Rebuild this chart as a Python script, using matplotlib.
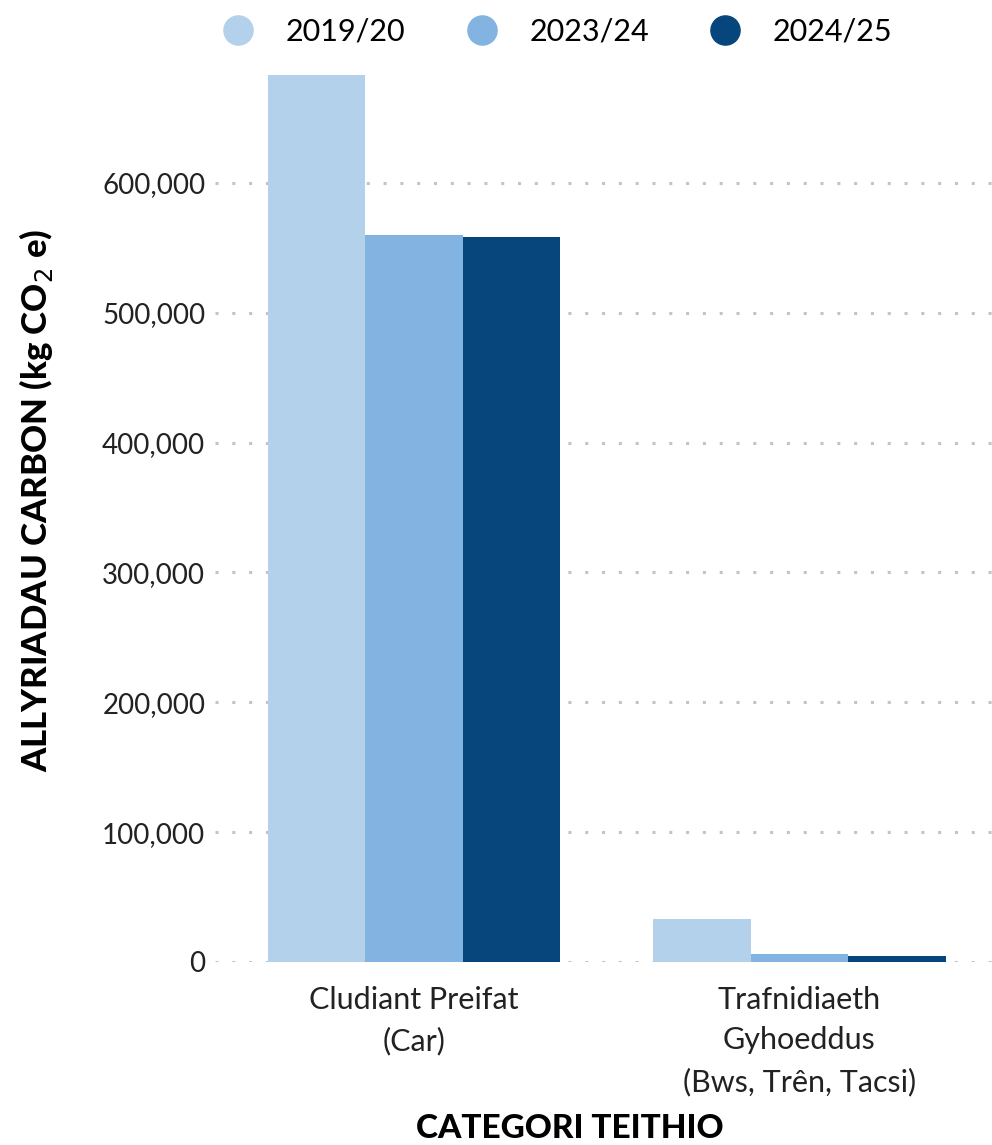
import numpy as np
import matplotlib.pyplot as plt
from matplotlib.lines import Line2D

# data
categories = ["Cludiant Preifat\n(Car)", "Trafnidiaeth\nGyhoeddus\n(Bws, Trên, Tacsi)"]
years = ["2019/20", "2023/24", "2024/25"]
v_2019 = [683000, 33000]
v_2023 = [560000, 5900]
v_2024 = [558500, 4900]
yticks = [0, 100000, 200000, 300000, 400000, 500000, 600000]

colors = ["#b4d1ec", "#83b4e1", "#07467c"]

plt.rcParams['font.family'] = ['Lato', 'DejaVu Sans']

fig = plt.figure(figsize=(9.92, 11.45), dpi=100)
ax = fig.add_axes([215 / 992, 1 - 962 / 1145, 777 / 992, (962 - 75) / 1145])

x = np.arange(len(categories))
w = 0.253
for i, vals in enumerate([v_2019, v_2023, v_2024]):
    ax.bar(x + (i - 1) * w, vals, width=w, color=colors[i], zorder=3)

ax.set_xlim(-0.517, 1.5)
ax.set_ylim(0, 683000)
ax.set_yticks(yticks)
ax.set_yticklabels([f"{t:,}" for t in yticks], fontsize=20, color="#222222")
ax.yaxis.grid(True, linestyle=(0, (1, 4.5)), color="#c4c4c4", linewidth=2.2, zorder=0)
ax.tick_params(axis="y", length=0, pad=7)
ax.tick_params(axis="x", length=0, pad=17)
ax.set_xticks(x)
ax.set_xticklabels(categories, fontsize=22, color="#222222", linespacing=1.55, va="top")
for s in ax.spines.values():
    s.set_visible(False)

fig.text(36 / 992, 1 - 500 / 1145, "ALLYRIADAU CARBON (kg CO$_2$ e)", rotation=90,
         ha="center", va="center", fontsize=25, fontweight="black")
fig.text(570 / 992, 1 - 1128 / 1145, "CATEGORI TEITHIO", ha="center", va="center",
         fontsize=24, fontweight="black")

handles = [Line2D([], [], marker="o", linestyle="", markersize=21, color=c) for c in colors]
fig.legend(handles, years, loc="center", bbox_to_anchor=(550 / 992, 1 - 32 / 1145), ncol=3,
           frameon=False, fontsize=22, handletextpad=0.55, columnspacing=1.5)

fig.savefig("out.png", dpi=100)
